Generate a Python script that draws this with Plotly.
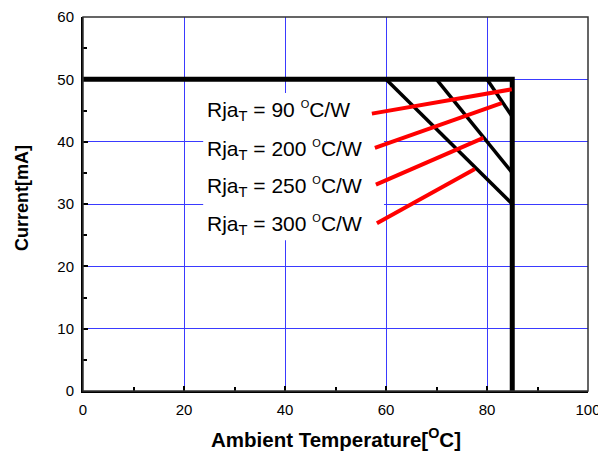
import plotly.graph_objects as go

# Data
limit_x = [0, 85, 85]
limit_y = [50, 50, 0]

derate_start_x = [60, 70, 80]
derate_start_y = [50, 50, 50]
derate_end_x = [85, 85, 85]
derate_end_y = [30, 35, 44]

labels = ["Rja<sub>T</sub> = 90 <sup><span style='font-size:11px'>O</span></sup>C/W",
          "Rja<sub>T</sub> = 200 <sup><span style='font-size:11px'>O</span></sup>C/W",
          "Rja<sub>T</sub> = 250 <sup><span style='font-size:11px'>O</span></sup>C/W",
          "Rja<sub>T</sub> = 300 <sup><span style='font-size:11px'>O</span></sup>C/W"]
label_x = [24.1, 24.1, 24.1, 24.1]
label_y = [44.9, 38.6, 32.7, 26.6]

leader_start_x = [57.2, 57.8, 58.0, 58.2]
leader_start_y = [44.5, 39.0, 33.1, 26.9]
leader_end_x = [84.9, 82.9, 79.3, 77.6]
leader_end_y = [48.4, 46.2, 40.6, 35.6]

x_ticks = [0, 20, 40, 60, 80, 100]
y_ticks = [0, 10, 20, 30, 40, 50, 60]

FONT = "Liberation Sans, Arial, sans-serif"

fig = go.Figure()

# derating diagonals
for sx, sy, ex, ey in zip(derate_start_x, derate_start_y, derate_end_x, derate_end_y):
    fig.add_trace(go.Scatter(x=[sx, ex], y=[sy, ey], mode="lines",
                             line=dict(color="black", width=3.5), showlegend=False, hoverinfo="skip"))

# limit L
fig.add_trace(go.Scatter(x=limit_x, y=limit_y, mode="lines",
                         line=dict(color="black", width=5), showlegend=False, hoverinfo="skip"))

# red leaders
for sx, sy, ex, ey in zip(leader_start_x, leader_start_y, leader_end_x, leader_end_y):
    fig.add_trace(go.Scatter(x=[sx, ex], y=[sy, ey], mode="lines",
                             line=dict(color="#ff0000", width=4), showlegend=False, hoverinfo="skip"))

# white box behind labels (covers gridlines)
fig.add_shape(type="rect", x0=23.8, x1=59.6, y0=24.2, y1=47.8,
              fillcolor="white", line=dict(width=0), layer="between")

# frame (top/right thin)
fig.add_shape(type="rect", xref="paper", yref="paper", x0=0, x1=1, y0=0, y1=1,
              line=dict(color="#333333", width=1.5), layer="above")

for t, lx, ly in zip(labels, label_x, label_y):
    fig.add_annotation(x=lx, y=ly, text=t, showarrow=False, xanchor="left", yanchor="middle",
                       font=dict(family=FONT, size=21, color="black"))

# axis titles
fig.add_annotation(xref="paper", yref="paper", x=0.5, y=-0.126, yanchor="middle",
                   text="<b>Ambient Temperature[<sup>O</sup>C]</b>", showarrow=False,
                   font=dict(family=FONT, size=20.5, color="black"))
fig.add_annotation(xref="paper", yref="paper", x=-0.121, y=0.516, xanchor="center", yanchor="middle",
                   text="<b>Current[mA]</b>", textangle=-90, showarrow=False,
                   font=dict(family=FONT, size=18, color="black"))

fig.update_layout(
    width=598, height=451,
    margin=dict(l=83, r=10, t=17, b=60),
    plot_bgcolor="white", paper_bgcolor="white",
    font=dict(family=FONT, size=15, color="black"),
    showlegend=False,
)
fig.update_xaxes(range=[0, 100], tickvals=x_ticks, ticks="inside", ticklen=5, tickwidth=1.5,
                 tickcolor="black", showgrid=True, gridcolor="#3a3aff", gridwidth=1,
                 zeroline=False, showline=True, linecolor="black", linewidth=2,
                 minor=dict(dtick=10, ticks="inside", ticklen=4, tickcolor="black", showgrid=False),
                 ticklabelstandoff=4, ticklabeloverflow="allow", automargin=False,
                 tickfont=dict(size=15, family=FONT))
fig.update_yaxes(range=[0, 60], tickvals=y_ticks, ticks="inside", ticklen=5, tickwidth=1.5,
                 tickcolor="black", showgrid=True, gridcolor="#3a3aff", gridwidth=1,
                 zeroline=False, showline=True, linecolor="black", linewidth=2,
                 minor=dict(dtick=5, ticks="inside", ticklen=4, tickcolor="black", showgrid=False),
                 ticklabelstandoff=4, ticklabeloverflow="allow", automargin=False,
                 tickfont=dict(size=15, family=FONT))

fig.write_html("out.html")
